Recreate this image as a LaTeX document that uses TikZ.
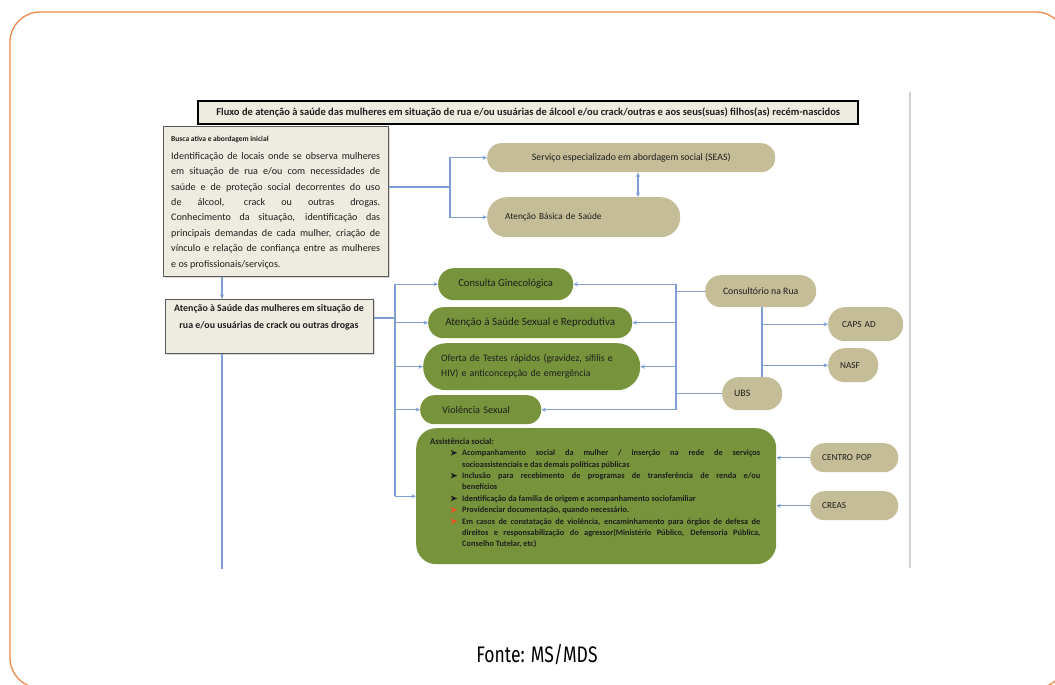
\documentclass[tikz,border=0pt]{standalone}
\usepackage{fontspec}
\setmainfont{Carlito}
\newfontfamily\fontefont[FakeStretch=0.78]{Fira Sans}
\usetikzlibrary{calc,arrows.meta,shadows}
\definecolor{khaki}{HTML}{C4BD97}
\definecolor{olivegreen}{HTML}{77933C}
\definecolor{beige}{HTML}{EEECE1}
\definecolor{connblue}{HTML}{7F9ED3}
\definecolor{frameorange}{HTML}{F08A4B}
\definecolor{txt}{HTML}{1E1E1E}
\definecolor{bulletred}{HTML}{F4511E}
\newcommand{\bulletmark}[1]{\tikz[x=1pt,y=1pt,baseline=0pt]\fill[#1] (0,0) -- (6.5,2.8) -- (0,5.6) -- (1.8,2.8) -- cycle;}
\newcommand{\itm}[2]{\makebox[32pt][r]{\bulletmark{#1}\hspace{5pt}}#2}
\newcommand{\jl}[1]{\makebox[298pt][s]{#1}}
\newcommand{\cont}[1]{\hspace*{32pt}#1}
\newcommand{\bline}[1]{\makebox[209pt][s]{#1}}
\begin{document}
\begin{tikzpicture}[x=1pt,y=-1pt,
  base/.style={inner sep=0pt, text=txt, font=\fontsize{8}{10}\selectfont},
  pill/.style 2 args={base, rectangle, anchor=north west, minimum width=#1, minimum height=#2, rounded corners=#2*0.49},
  gnode/.style 2 args={pill={#1}{#2}, fill=olivegreen},
  knode/.style 2 args={pill={#1}{#2}, fill=khaki},
  boxed/.style={base, anchor=north west, draw=gray!70!black, line width=1.2pt, fill=beige,
    drop shadow={shadow xshift=1.5pt, shadow yshift=-1.5pt, fill=gray!60}},
  conn/.style={draw=connblue, line width=1.1pt},
  arr/.style={conn, -{Stealth[length=4.5pt,width=4pt]}},
  arrboth/.style={conn, {Stealth[length=4.5pt,width=4pt]}-{Stealth[length=4.5pt,width=4pt]}},
]
\useasboundingbox (0,0) rectangle (1055,685);
\fill[white] (0,0) rectangle (1055,685);
\draw[frameorange, line width=1.3pt, rounded corners=30pt] (10,12) rectangle (1066,688);
\draw[gray!35, line width=1.5pt] (910,92) -- (910,568);

% title
\node[base, anchor=north west, draw=black, line width=2.4pt, fill=beige, minimum width=660, minimum height=23,
  font=\bfseries\fontsize{10.5}{12}\selectfont] (title) at (197,100)
  {Fluxo de atenção à saúde das mulheres em situação de rua e/ou usuárias de álcool e/ou crack/outras e aos seus(suas) filhos(as) recém-nascidos};

% left boxes
\node[boxed, minimum width=225, minimum height=150] (busca) at (163,126) {};
\node[base, anchor=west, font=\bfseries\fontsize{7.5}{9}\selectfont] (buscat) at (171,139) {Busca ativa e abordagem inicial};
\node[base, anchor=north west, align=left, font=\fontsize{10.1}{15.4}\selectfont] (buscab) at (171,152)
  {\bline{Identificação de locais onde se observa mulheres}\\
   \bline{em situação de rua e/ou com necessidades de}\\
   \bline{saúde e de proteção social decorrentes do uso}\\
   \bline{de álcool, crack ou outras drogas.}\\
   \bline{Conhecimento da situação, identificação das}\\
   \bline{principais demandas de cada mulher, criação de}\\
   \bline{vínculo e relação de confiança entre as mulheres}\\
   e os profissionais/serviços.};

\node[boxed, minimum width=208, minimum height=54] (atencao) at (165,299) {};
\node[base, anchor=north, align=center, font=\bfseries\fontsize{9.9}{17}\selectfont] (atencaot) at (269,304)
  {Atenção à Saúde das mulheres em situação de\\rua e/ou usuárias de crack ou outras drogas};

% khaki nodes top
\node[knode={288}{29}, font=\fontsize{9.8}{11}\selectfont] (seas) at (487,143) {Serviço especializado em abordagem social (SEAS)};
\node[knode={193}{40}, text width=157, align=left, font=\fontsize{9.3}{11}\selectfont] (abs) at (487,197) {Atenção Básica de Saúde};

% green nodes
\node[gnode={135}{32}, font=\fontsize{10.6}{12}\selectfont] (cg) at (438,268) {Consulta Ginecológica};
\node[gnode={204}{31}, font=\fontsize{11}{12}\selectfont] (ss) at (428,307) {Atenção à Saúde Sexual e Reprodutiva};
\node[gnode={217}{47}, text width=181, align=left, font=\fontsize{9.8}{15}\selectfont] (ot) at (423,343)
  {Oferta de Testes rápidos (gravidez, sífilis e\\HIV) e anticoncepção de emergência};
\node[gnode={121}{29}, text width=77, align=left, font=\fontsize{10.2}{12}\selectfont] (vs) at (420,395) {Violência Sexual};
\node[base, anchor=north west, fill=olivegreen, rounded corners=20pt, minimum width=360, minimum height=136] (as) at (416,428) {};
\node[base, anchor=north west, align=left, font=\bfseries\fontsize{8.3}{11.4}\selectfont] (ast) at (430,438) {%
{\fontsize{8.6}{11.4}\selectfont Assistência social:}\\
\itm{txt}{\jl{Acompanhamento social da mulher / inserção na rede de serviços}}\\
\cont{socioassistenciais e das demais políticas públicas}\\
\itm{txt}{\jl{Inclusão para recebimento de programas de transferência de renda e/ou}}\\
\cont{benefícios}\\
\itm{txt}{Identificação da família de origem e acompanhamento sociofamiliar}\\
\itm{bulletred}{Providenciar documentação, quando necessário.}\\
\itm{bulletred}{\jl{Em casos de constatação de violência, encaminhamento para órgãos de defesa de}}\\
\cont{\jl{direitos e responsabilização do agressor(Ministério Público, Defensoria Pública,}}\\
\cont{Conselho Tutelar, etc)}};

% khaki nodes right
\node[knode={111}{32}, font=\fontsize{9.8}{11}\selectfont] (cr) at (705,275) {Consultório na Rua};
\node[knode={75}{34}, text width=47, align=left, font=\fontsize{9.3}{10}\selectfont] (caps) at (828,307) {CAPS AD};
\node[knode={50}{34}, text width=26, align=left, font=\fontsize{9.2}{10}\selectfont] (nasf) at (828,348) {NASF};
\node[knode={60}{33}, text width=36, align=left, font=\fontsize{9.8}{10}\selectfont] (ubs) at (722,377) {UBS};
\node[knode={88}{29}, text width=64, align=left, font=\fontsize{9.2}{10}\selectfont] (cpop) at (810,443) {CENTRO POP};
\node[knode={88}{29}, text width=64, align=left, font=\fontsize{9.2}{10}\selectfont] (creas) at (810,491) {CREAS};

% connectors
\coordinate (jb) at (450,187);
\draw[conn] (busca.east |- jb) -- (jb);
\draw[arr] (jb) |- (seas.west);
\draw[arr] (jb) |- (abs.west);
\coordinate (dx) at (638,0);
\draw[arrboth] (seas.south -| dx) -- (abs.north -| dx);

\draw[arr] ($(busca.south west)+(59,0)$) -- ($(atencao.north west)+(57,0)$);
\draw[conn] ($(atencao.south west)+(57,0)$) -- ++(0,215);

\coordinate (bl) at (395,318);
\draw[conn] (atencao.east |- bl) -- (bl);
\draw[conn] (cg.west -| bl) -- (as.west -| bl);
\foreach \n in {cg,ss,ot,vs,as} \draw[arr] (\n.west -| bl) -- (\n.west);

\coordinate (br) at (676,0);
\draw[conn] (cg.east -| br) -- (vs.east -| br);
\draw[conn] (cr.west) -- (cr.west -| br);
\draw[conn] (ubs.west) -- (ubs.west -| br);
\foreach \n in {cg,ss,ot,vs} \draw[arr] (\n.east -| br) -- (\n.east);

\coordinate (bc) at (762,0);
\draw[conn] (cr.south -| bc) -- (ubs.north -| bc);
\draw[arr] (caps.west -| bc) -- (caps.west);
\draw[arr] (nasf.west -| bc) -- (nasf.west);

\draw[arr] (cpop.west) -- (cpop.west -| as.east);
\draw[arr] (creas.west) -- (creas.west -| as.east);

\node[base, text=black, font=\fontefont\fontsize{22.5}{25}\selectfont] (fonte) at (537,655) {Fonte: MS/MDS};
\end{tikzpicture}
\end{document}
